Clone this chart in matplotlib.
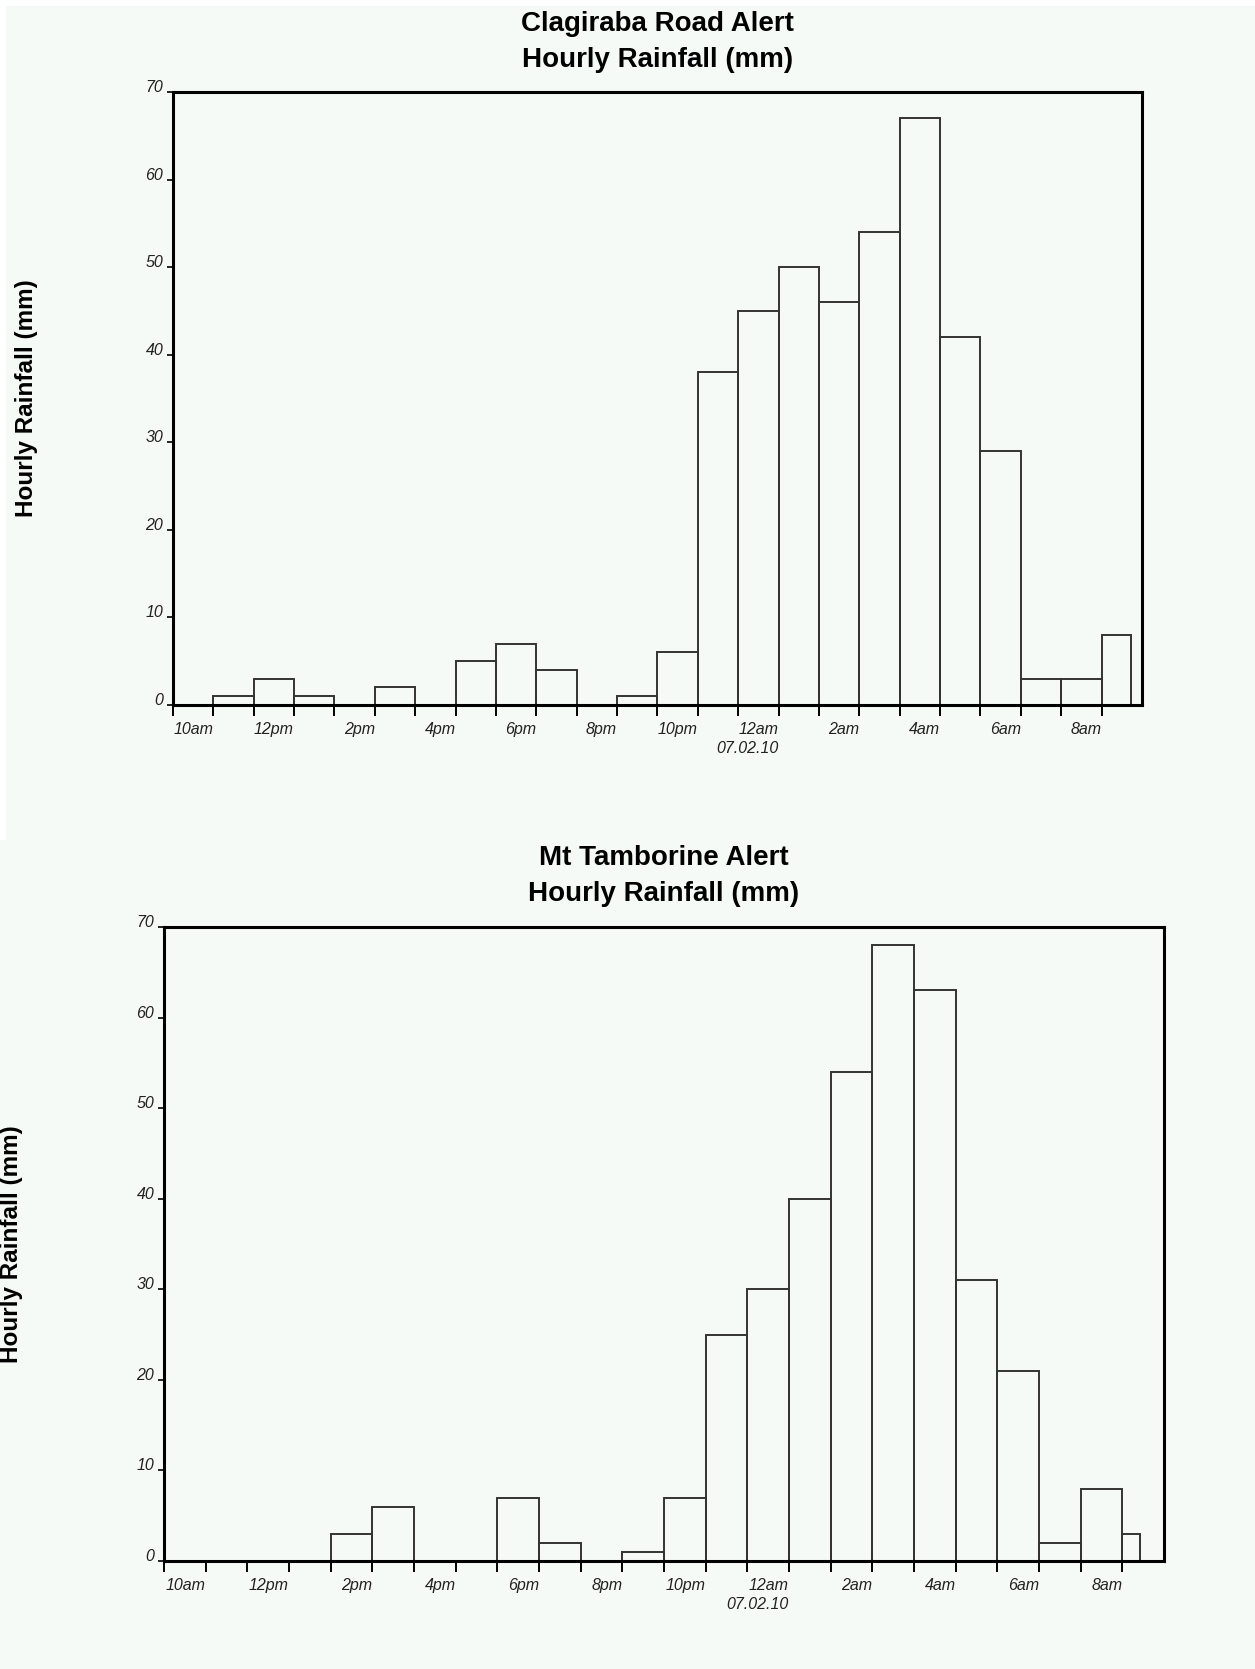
import numpy as np
import matplotlib
matplotlib.use("Agg")
import matplotlib.pyplot as plt
from matplotlib.patches import Rectangle

plt.rcParams["font.family"] = ["Liberation Sans", "DejaVu Sans"]

# hourly rainfall (mm), one value per hour starting 10am 06.02.10
clagiraba_rain = [0, 1, 3, 1, 0, 2, 0, 5, 7, 4, 0, 1,
                  6, 38, 45, 50, 46, 54, 67, 42, 29, 3, 3, 8]
tamborine_rain = [0, 0, 0, 0, 3, 6, 0, 0, 7, 2, 0, 1,
                  7, 25, 30, 40, 54, 68, 63, 31, 21, 2, 8, 3]

# the final hour is only partly recorded
clagiraba_last_hour = 0.73
tamborine_last_hour = 0.43

hour_labels = ["10am", "12pm", "2pm", "4pm", "6pm", "8pm", "10pm",
               "12am\n07.02.10", "2am", "4am", "6am", "8am"]
y_ticks = [0, 10, 20, 30, 40, 50, 60, 70]

stations = ["Clagiraba Road Alert", "Mt Tamborine Alert"]

bg = "#f5faf7"
fig = plt.figure(figsize=(12.55, 16.69), dpi=100, facecolor=bg)

# white edge strips around the upper panel
fig.patches.append(Rectangle((0, 0.9964), 1, 0.0036, transform=fig.transFigure,
                             facecolor="white", edgecolor="none", zorder=0))
fig.patches.append(Rectangle((0, 0.497), 0.0048, 0.503, transform=fig.transFigure,
                             facecolor="white", edgecolor="none", zorder=0))


def draw_panel(rect, rain, last_hour, title, title_y, ylabel_x):
    ax = fig.add_axes(rect)
    ax.set_facecolor("none")

    hours = np.arange(len(rain))
    widths = np.ones(len(rain))
    widths[-1] = last_hour
    ax.bar(hours, rain, width=widths, align="edge", facecolor="none",
           edgecolor="#333333", linewidth=1.4, zorder=2)

    ax.set_xlim(0, 24)
    ax.set_ylim(0, 70)

    # every hour gets a tick, labels sit just left of the following tick
    labels = [""] * 24
    for i, lab in enumerate(hour_labels):
        labels[2 * i + 1] = lab
    ax.set_xticks(np.arange(24))
    ax.set_xticklabels(labels, fontsize=11.5, style="italic", color="#222222")
    for lab in ax.get_xticklabels():
        lab.set_horizontalalignment("right")
        lab.set_linespacing(1.35)
    ax.tick_params(axis="x", direction="out", length=8, width=1.4, pad=4)

    ax.set_yticks(y_ticks)
    ax.set_yticklabels([str(v) for v in y_ticks], fontsize=11.5,
                       style="italic", color="#222222")
    for lab in ax.get_yticklabels():
        lab.set_verticalalignment("baseline")
    ax.tick_params(axis="y", direction="out", length=4, width=1.2, pad=3)

    for side in ["left", "right", "top", "bottom"]:
        ax.spines[side].set_linewidth(2.2)
        ax.spines[side].set_color("black")

    cx = rect[0] + rect[2] / 2
    fig.text(cx, title_y[0], title, ha="center", va="center",
             fontsize=20, fontweight="bold")
    fig.text(cx, title_y[1], "Hourly Rainfall (mm)", ha="center", va="center",
             fontsize=20, fontweight="bold")
    fig.text(ylabel_x, rect[1] + rect[3] / 2, "Hourly Rainfall (mm)",
             rotation=90, ha="center", va="center",
             fontsize=17.5, fontweight="bold")
    return ax


draw_panel([0.1378, 0.5776, 0.7721, 0.3673], clagiraba_rain,
           clagiraba_last_hour, stations[0], (0.9856, 0.9640), 0.0212)
draw_panel([0.1307, 0.0647, 0.7968, 0.3799], tamborine_rain,
           tamborine_last_hour, stations[1], (0.4860, 0.4641), 0.0088)

plt.savefig("out.png", dpi=100, facecolor=bg)
